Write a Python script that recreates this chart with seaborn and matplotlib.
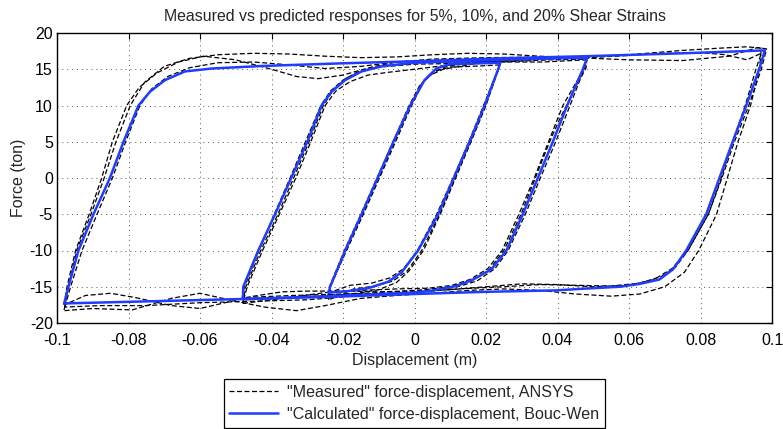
import matplotlib
matplotlib.use("Agg")
import matplotlib.pyplot as plt
from matplotlib.lines import Line2D
import seaborn as sns
import pandas as pd

# ---------------- data ----------------
# Calculated (Bouc-Wen) loops: 5%, 10%, 20% shear strain
calc_small_x = [-0.024, -0.0236, -0.0194, -0.0148, -0.0103, -0.0059, -0.0012, 0.0028, 0.0061, 0.0098, 0.024,
                0.0234, 0.0196, 0.0154, 0.011, 0.0066, 0.001, -0.0036, -0.0073, -0.0129, -0.0185, -0.024]
calc_small_y = [-15.8, -15, -10, -5, 0, 5, 10, 13.5, 15.1, 15.7, 15.9,
                15, 10, 5, 0, -5, -10, -13.0, -14.3, -15.2, -15.6, -15.8]

calc_mid_x = [-0.048, -0.0479, -0.0437, -0.039, -0.0345, -0.030, -0.026, -0.0232, -0.0194, -0.0148, -0.0092, 0.0, 0.024, 0.0483,
              0.0471, 0.0427, 0.0387, 0.0345, 0.0303, 0.0257, 0.0215, 0.0164, 0.0117, 0.0052, 0.0, -0.024, -0.048]
calc_mid_y = [-16.7, -15, -10, -5, 0, 5, 10, 11.9, 13.5, 14.7, 15.4, 15.9, 16.3, 16.6,
              15, 10, 5, 0, -5, -10, -12.6, -14, -14.9, -15.5, -15.8, -16.3, -16.7]

calc_big_x = [-0.098, -0.0968, -0.094, -0.0898, -0.0852, -0.0814, -0.0772, -0.074, -0.0698, -0.0642, -0.0567, -0.0427,
              -0.0213, 0.0, 0.024, 0.048, 0.075, 0.098,
              0.0964, 0.0928, 0.089, 0.0853, 0.0816, 0.076, 0.0723, 0.0685, 0.063, 0.0574, 0.0462, 0.0397, 0.02, 0.0,
              -0.024, -0.049, -0.098]
calc_big_y = [-17.3, -15, -10, -5, 0, 5, 10, 11.9, 13.5, 14.7, 15.1, 15.45,
              15.8, 16.1, 16.5, 16.8, 17.2, 17.6,
              15, 10, 5, 0, -5, -10, -12.6, -14, -14.6, -15, -15.3, -15.5, -15.7, -16.0,
              -16.4, -16.7, -17.3]

# Measured (ANSYS) cycles
meas_big_a_x = [-0.098, -0.0968, -0.0945, -0.0905, -0.0868, -0.0835, -0.0795, -0.0755, -0.070, -0.063, -0.055, -0.045,
                -0.035, -0.025, -0.015, -0.005, 0.005, 0.015, 0.025, 0.035, 0.045, 0.055, 0.065, 0.075, 0.085, 0.093,
                0.097, 0.0965, 0.094, 0.0905, 0.0875, 0.0845, 0.0795, 0.0755, 0.070, 0.063, 0.055, 0.045, 0.035, 0.025,
                0.015, 0.005, -0.005, -0.015, -0.025, -0.033, -0.042, -0.050, -0.060, -0.068, -0.079, -0.090, -0.098]
meas_big_a_y = [-18.2, -15, -10, -5, 0, 5, 10, 13.2, 15.4, 16.5, 17.0, 17.2,
                17.1, 16.8, 16.6, 16.7, 17.0, 17.2, 17.1, 16.8, 16.6, 16.8, 17.2, 17.6, 17.9, 18.1,
                17.9, 15, 10, 5, 0, -5, -10, -13, -15.0, -16.0, -16.3, -16.0, -15.5, -15.3,
                -15.5, -15.9, -16.2, -16.6, -17.6, -18.3, -17.8, -17.0, -15.9, -16.6, -18.2, -18.0, -18.3]

meas_big_b_x = [-0.098, -0.0972, -0.0948, -0.091, -0.0875, -0.0845, -0.0805, -0.077, -0.072, -0.066, -0.059, -0.050,
                -0.040, -0.033, -0.027, -0.020, -0.012, -0.005, 0.005, 0.015, 0.025, 0.035, 0.048, 0.060, 0.070, 0.080,
                0.087, 0.093, 0.097, 0.0955, 0.0925, 0.089, 0.0858, 0.0822, 0.0765, 0.072, 0.067, 0.060, 0.050, 0.040,
                0.030, 0.020, 0.010, 0.0, -0.010, -0.020, -0.030, -0.037, -0.045, -0.053, -0.060, -0.068, -0.078,
                -0.085, -0.092, -0.098]
meas_big_b_y = [-17.5, -15, -10, -5, 0, 5, 10, 12.5, 14.5, 16.0, 16.8, 16.3,
                15.0, 14.0, 13.7, 14.2, 15.3, 16.0, 16.1, 16.0, 16.2, 16.5, 16.6, 16.9, 17.2, 17.3,
                17.0, 16.3, 17.2, 15, 10, 5, 0, -5, -10, -12.5, -14.0, -14.8, -15.0, -14.7,
                -14.6, -15.0, -15.4, -15.6, -15.7, -15.6, -15.6, -15.7, -16.3, -17.2, -18.0, -17.6, -16.5,
                -15.9, -16.2, -17.5]

meas_big_c_x = [-0.0978, -0.0962, -0.093, -0.0888, -0.0845, -0.0808, -0.0768, -0.0735, -0.069, -0.063, -0.055, -0.045,
                -0.035, -0.025, -0.015, -0.005, 0.005, 0.020, 0.040, 0.060, 0.075, 0.088, 0.096, 0.0985,
                0.097, 0.0935, 0.0895, 0.086, 0.0822, 0.0765, 0.073, 0.069, 0.063, 0.055, 0.045, 0.035, 0.025, 0.012,
                0.0, -0.015, -0.030, -0.045, -0.060, -0.075, -0.088, -0.0978]
meas_big_c_y = [-17.8, -15, -10, -5, 0, 5, 10, 12.3, 14.0, 15.2, 15.9, 16.0,
                15.6, 15.1, 15.4, 16.0, 16.4, 16.6, 16.7, 16.3, 16.2, 16.8, 18.0, 17.8,
                15, 10, 5, 0, -5, -10, -12.3, -13.6, -14.5, -14.9, -14.8, -14.7, -15.0, -15.3,
                -15.8, -16.2, -16.8, -17.0, -17.2, -17.6, -17.6, -17.8]

meas_mid_a_x = [-0.048, -0.0472, -0.043, -0.0382, -0.0338, -0.0295, -0.0255, -0.0225, -0.019, -0.014, -0.008, 0.0,
                0.012, 0.024, 0.036, 0.0485, 0.0475, 0.045, 0.0415, 0.0375, 0.0335, 0.0292, 0.0245, 0.0205, 0.0155,
                0.0105, 0.004, -0.005, -0.015, -0.025, -0.035, -0.048]
meas_mid_a_y = [-17.3, -15, -10, -5, 0, 5, 10, 12.3, 13.8, 14.9, 15.5, 15.9,
                16.0, 16.1, 16.4, 16.8, 15, 13.0, 10, 5, 0, -5, -10, -12.5, -14.0,
                -14.8, -15.2, -15.3, -15.5, -15.8, -16.5, -17.3]

meas_mid_b_x = [-0.0478, -0.0468, -0.0425, -0.0378, -0.0332, -0.029, -0.025, -0.022, -0.018, -0.013, -0.007, 0.0,
                0.010, 0.024, 0.036, 0.048, 0.047, 0.0445, 0.0405, 0.0378, 0.0338, 0.0298, 0.025, 0.021, 0.016,
                0.010, 0.003, -0.010, -0.024, -0.036, -0.0478]
meas_mid_b_y = [-16.8, -15, -10, -5, 0, 5, 10, 12.0, 13.3, 14.2, 14.6, 15.0,
                15.6, 16.0, 16.0, 16.3, 14.5, 12.0, 8, 5, 0, -5, -10, -12.6, -14.2,
                -15.0, -15.4, -15.8, -16.2, -16.6, -16.8]

meas_mid_c_x = [-0.0482, -0.0476, -0.0435, -0.0392, -0.0348, -0.0305, -0.0262, -0.0235, -0.020, -0.016, -0.010, 0.0,
                0.012, 0.024, 0.038, 0.0482, 0.048, 0.0465, 0.0435, 0.0395, 0.0352, 0.031, 0.0262, 0.0225, 0.0175,
                0.012, 0.005, -0.008, -0.020, -0.034, -0.0482]
meas_mid_c_y = [-16.5, -15, -10, -5, 0, 5, 10, 12.0, 13.5, 14.6, 15.3, 15.7,
                15.8, 16.0, 16.3, 16.4, 15.2, 13.8, 10, 5, 0, -5, -10, -12.5, -14.2,
                -15.0, -15.6, -15.9, -16.0, -16.2, -16.5]

meas_small_a_x = [-0.024, -0.0235, -0.0192, -0.0145, -0.0100, -0.0056, -0.0012, 0.002, 0.005, 0.009, 0.015, 0.024,
                  0.0235, 0.0198, 0.0157, 0.0114, 0.007, 0.002, -0.002, -0.006, -0.011, -0.017, -0.024]
meas_small_a_y = [-16.8, -15, -10, -5, 0, 5, 10, 13.0, 14.5, 15.4, 15.8, 16.2,
                  15, 10, 5, 0, -5, -10, -12.8, -14.2, -14.9, -15.3, -16.8]

meas_small_b_x = [-0.0238, -0.0232, -0.019, -0.0143, -0.0098, -0.0053, -0.0008, 0.0025, 0.006, 0.010, 0.016, 0.024,
                  0.023, 0.0193, 0.0152, 0.0108, 0.0062, 0.0008, -0.003, -0.007, -0.012, -0.018, -0.0238]
meas_small_b_y = [-15.8, -14.5, -10, -5, 0, 5, 10, 13.3, 14.8, 15.3, 15.4, 15.6,
                  14.5, 10, 5, 0, -5, -10, -12.5, -13.8, -14.5, -14.8, -15.8]

meas_small_c_x = [-0.0242, -0.0238, -0.0196, -0.015, -0.0105, -0.006, -0.0015, 0.0015, 0.0045, 0.008, 0.014, 0.0242,
                  0.0238, 0.020, 0.0158, 0.0115, 0.0072, 0.0025, -0.0015, -0.005, -0.010, -0.016, -0.0242]
meas_small_c_y = [-16.2, -15, -10, -5, 0, 5, 10, 12.8, 14.2, 15.0, 15.5, 16.5,
                  15.5, 10, 5, 0, -5, -10, -12.8, -14.4, -15.4, -15.9, -16.2]

x_ticks = [-0.1, -0.08, -0.06, -0.04, -0.02, 0, 0.02, 0.04, 0.06, 0.08, 0.1]
x_tick_labels = ["-0.1", "-0.08", "-0.06", "-0.04", "-0.02", "0", "0.02", "0.04", "0.06", "0.08", "0.1"]
y_ticks = [-20, -15, -10, -5, 0, 5, 10, 15, 20]
y_tick_labels = ["-20", "-15", "-10", "-5", "0", "5", "10", "15", "20"]

title = "Measured vs predicted responses for 5%, 10%, and 20% Shear Strains"
legend_labels = ['"Measured" force-displacement, ANSYS', '"Calculated" force-displacement, Bouc-Wen']

# ---------------- build tables ----------------
def table(cycles):
    frames = []
    for i, (xs, ys) in enumerate(cycles):
        frames.append(pd.DataFrame({"x": xs, "y": ys, "cycle": i}))
    return pd.concat(frames, ignore_index=True)

meas_df = table([(meas_small_a_x, meas_small_a_y), (meas_small_b_x, meas_small_b_y), (meas_small_c_x, meas_small_c_y),
                 (meas_mid_a_x, meas_mid_a_y), (meas_mid_b_x, meas_mid_b_y), (meas_mid_c_x, meas_mid_c_y),
                 (meas_big_a_x, meas_big_a_y), (meas_big_b_x, meas_big_b_y), (meas_big_c_x, meas_big_c_y)])
calc_df = table([(calc_small_x, calc_small_y), (calc_mid_x, calc_mid_y), (calc_big_x, calc_big_y)])

# ---------------- style ----------------
sns.set_style("white")
plt.rcParams["font.family"] = ["Liberation Sans", "DejaVu Sans"]
plt.rcParams["axes.unicode_minus"] = False

BLUE = "#1f3cff"

fig = plt.figure(figsize=(7.83, 4.29), dpi=100)
ax = fig.add_axes([57 / 783, 1 - 323 / 429, 715 / 783, 290 / 429])

sns.lineplot(data=meas_df, x="x", y="y", units="cycle", estimator=None, sort=False,
             color="black", linewidth=0.9, ax=ax, dashes=False, legend=False)
for line in ax.get_lines():
    line.set_dashes([4, 2])
sns.lineplot(data=calc_df, x="x", y="y", units="cycle", estimator=None, sort=False,
             color=BLUE, linewidth=1.8, ax=ax, legend=False)

ax.set_xlim(-0.1, 0.1)
ax.set_ylim(-20, 20)
ax.set_xticks(x_ticks)
ax.set_xticklabels(x_tick_labels)
ax.set_yticks(y_ticks)
ax.set_yticklabels(y_tick_labels)
ax.tick_params(direction="in", length=4, width=0.8, top=True, right=True, labelsize=11.5, colors="black")
ax.tick_params(axis="x", pad=7)
ax.tick_params(axis="y", pad=3)
ax.grid(True, linestyle=(0, (1, 4)), color="#555555", linewidth=0.7)
for s in ax.spines.values():
    s.set_visible(True)
    s.set_color("black")
    s.set_linewidth(1.0)

ax.set_xlabel("Displacement (m)", fontsize=11.5, labelpad=4)
ax.set_ylabel("Force (ton)", fontsize=11.5, labelpad=3)
ax.set_title(title, fontsize=11.4, pad=9)

handles = [Line2D([0], [0], color="black", linewidth=0.9, dashes=[4, 2]),
           Line2D([0], [0], color=BLUE, linewidth=1.8)]
leg = fig.legend(handles, legend_labels, loc="upper center", bbox_to_anchor=(414.5 / 783, 1 - 379 / 429),
                 frameon=True, fancybox=False, framealpha=1, edgecolor="black", fontsize=11.6,
                 handlelength=3.0, borderpad=0.35, labelspacing=0.45, handletextpad=0.6, borderaxespad=0)
leg.get_frame().set_linewidth(0.9)

fig.savefig("out.png", dpi=100)
